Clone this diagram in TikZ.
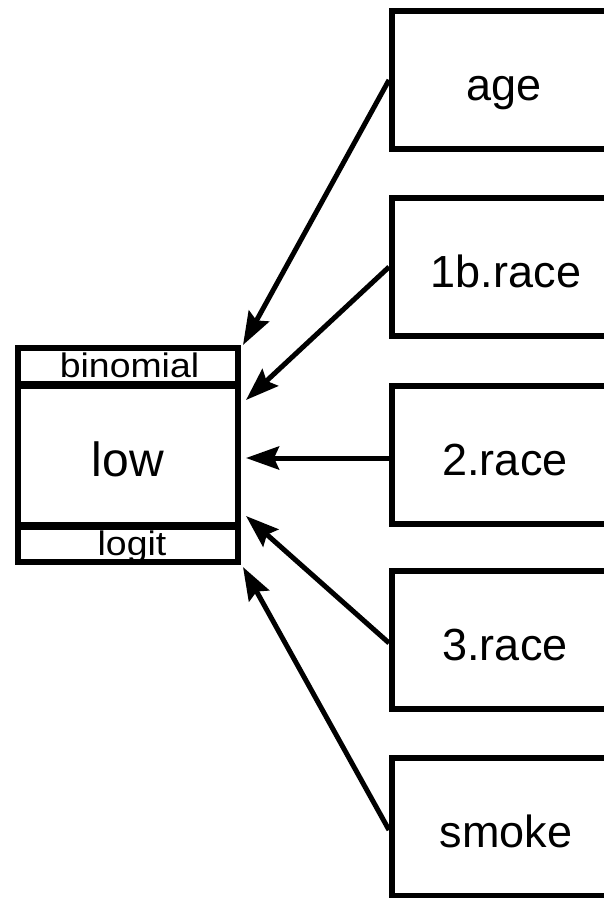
\documentclass[tikz,border=0pt]{standalone}
\usepackage{fontspec}
\usepackage{graphicx}
\setmainfont{Liberation Sans}
\usetikzlibrary{arrows.meta}
\begin{document}
\begin{tikzpicture}[x=1pt,y=-1pt,
  rbox/.style={draw, line width=6pt, minimum width=216pt, minimum height=138pt, inner sep=0pt},
  lbl/.style={inner sep=0pt, anchor=base, font=\fontsize{45}{45}\selectfont},
  bigtxt/.style={inner sep=0pt, anchor=base, font=\fontsize{48}{48}\selectfont},
  smalltxt/.style={inner sep=0pt, anchor=base, font=\fontsize{34}{34}\selectfont},
  outerbox/.style={draw, line width=6pt, minimum width=220.5pt, minimum height=214pt, inner sep=0pt},
  band/.style={line width=8pt},
  conn/.style={line width=5pt, -{Stealth[length=33pt,width=23pt,inset=5pt]}}
]
\useasboundingbox (0,0) rectangle (604,898);
\fill[white] (0,0) rectangle (604,898);

% right boxes
\node[rbox] (age)   at (500,80)  {};
\node[rbox] (r1b)   at (500,267) {};
\node[rbox] (r2)    at (500,455) {};
\node[rbox] (r3)    at (500,640) {};
\node[rbox] (smoke) at (500,827) {};
\node[lbl] (agel)   at ([xshift=4pt,yshift=-20pt]age.center)   {age};
\node[lbl] (r1bl)   at ([xshift=6pt,yshift=-20pt]r1b.center)   {1b.race};
\node[lbl] (r2l)    at ([xshift=5pt,yshift=-20pt]r2.center)    {2.race};
\node[lbl] (r3l)    at ([xshift=5pt,yshift=-20pt]r3.center)    {3.race};
\node[lbl] (smokel) at ([xshift=6pt,yshift=-20pt]smoke.center) {smoke};

% model box
\node[outerbox] (mod) at (127.75,455) {};
\coordinate (bl) at (17.5,384.5);
\coordinate (br) at (238,384.5);
\coordinate (ll) at (17.5,526);
\coordinate (lr) at (238,526);
\draw[band] (bl) -- (br);
\draw[band] (ll) -- (lr);
\node[smalltxt] (binom) at (129.5,377) {\scalebox{1.1}[1]{binomial}};
\node[bigtxt] (low) at (128,476) {low};
\node[smalltxt] (logit) at (132,555) {\scalebox{1.1}[1]{logit}};

% arrow tips
\coordinate (t1) at (243,345);
\coordinate (t2) at (246,400);
\coordinate (t3) at (246,458);
\coordinate (t4) at (246,516);
\coordinate (t5) at (243,567);

\draw[conn] (age.west)   -- (t1);
\draw[conn] (r1b.west)   -- (t2);
\draw[conn] (r2.west |- t3) -- (t3);
\draw[conn] ([yshift=-3pt]r3.west) -- (t4);
\draw[conn] ([yshift=-3pt]smoke.west) -- (t5);
\end{tikzpicture}
\end{document}
